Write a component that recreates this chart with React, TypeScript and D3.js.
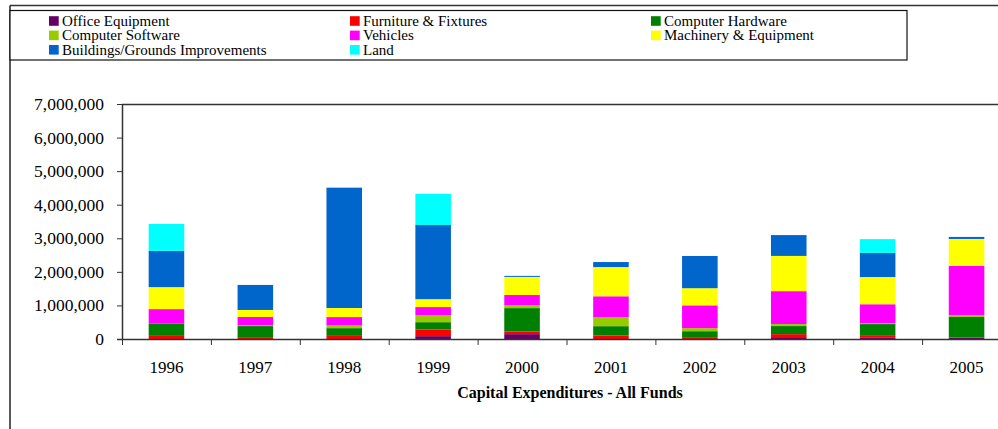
import * as d3 from 'd3';

// capital expenditures by year, in dollars
const years = ['1996', '1997', '1998', '1999', '2000', '2001', '2002', '2003', '2004', '2005'];
const officeEquipment = [0, 0, 0, 100000, 160000, 0, 0, 70000, 50000, 50000];
const furnitureFixtures = [108000, 70000, 108000, 200000, 80000, 120000, 70000, 90000, 80000, 20000];
const computerHardware = [370000, 330000, 230000, 216000, 695000, 277000, 178000, 240000, 330000, 600000];
const computerSoftware = [0, 20000, 80000, 210000, 90000, 270000, 90000, 60000, 30000, 60000];
const vehicles = [427000, 250000, 250000, 240000, 300000, 620000, 680000, 980000, 560000, 1465000];
const machineryEquipment = [655000, 210000, 270000, 235000, 540000, 870000, 510000, 1050000, 810000, 800000];
const buildingsGrounds = [1080000, 745000, 3585000, 2210000, 30000, 150000, 960000, 620000, 720000, 60000];
const land = [800000, 0, 0, 930000, 0, 0, 0, 0, 410000, 0];

const seriesNames = [
  'Office Equipment', 'Furniture & Fixtures', 'Computer Hardware',
  'Computer Software', 'Vehicles', 'Machinery & Equipment',
  'Buildings/Grounds Improvements', 'Land',
];
const seriesColors = ['#660066', '#ff0000', '#008000', '#99cc00', '#ff00ff', '#ffff00', '#0066cc', '#00ffff'];
const seriesValues = [officeEquipment, furnitureFixtures, computerHardware, computerSoftware,
  vehicles, machineryEquipment, buildingsGrounds, land];
const yTicks = [0, 1000000, 2000000, 3000000, 4000000, 5000000, 6000000, 7000000];

const W = 998, H = 429;
const FONT = 'Liberation Serif';

export default function App() {
  const rows = years.map((yr, i) => {
    const r: any = { year: yr };
    seriesNames.forEach((s, k) => { r[s] = seriesValues[k][i]; });
    return r;
  });
  const stacked = d3.stack().keys(seriesNames)(rows);

  const x = d3.scaleBand().domain(years).range([122, 1011]).paddingInner(0.6).paddingOuter(0.3);
  const y = d3.scaleLinear().domain([0, 7000000]).range([339.5, 104.5]);
  const step = x.step();
  const fmt = d3.format(',');
  const txt = { fontFamily: FONT };

  return (
    <svg width={W} height={H} style={{ position: 'absolute', left: 0, top: 0, background: '#fff' }}>
      {/* outer frame */}
      <line x1={10} y1={5.5} x2={W} y2={5.5} stroke="#333" strokeWidth={1.5} />
      <line x1={10} y1={5.5} x2={10} y2={H} stroke="#222" strokeWidth={1.5} />

      {/* legend */}
      <rect x={10} y={10.5} width={897} height={49.5} fill="#fff" stroke="#111" strokeWidth={1.2} />
      {seriesNames.map((s, k) => {
        const col = k % 3, row = Math.floor(k / 3);
        const lx = [49, 350, 651][col];
        const ly = 21 + row * 14.4;
        return (
          <g key={s}>
            <rect x={lx} y={ly - 4.8} width={9.7} height={9.6} fill={seriesColors[k]} />
            <text x={lx + 13} y={ly + 5} fontSize={15} style={txt}>{s}</text>
          </g>
        );
      })}

      {/* bars */}
      {stacked.map((layer, k) => (
        <g key={layer.key} fill={seriesColors[k]}>
          {layer.map((d, i) => {
            const h = y(d[0]) - y(d[1]);
            if (h <= 0) return null;
            return <rect key={i} x={x(years[i])} y={y(d[1])} width={x.bandwidth()} height={h} />;
          })}
        </g>
      ))}

      {/* plot top border */}
      <line x1={122} y1={104.5} x2={W} y2={104.5} stroke="#333" strokeWidth={1.5} />

      {/* y axis */}
      <line x1={122.5} y1={104.5} x2={122.5} y2={339.5} stroke="#333" strokeWidth={1.5} />
      {yTicks.map(t => (
        <g key={t}>
          <line x1={117} y1={y(t)} x2={122.5} y2={y(t)} stroke="#333" strokeWidth={1} />
          <text x={104} y={y(t) + 5.5} fontSize={17.5} textAnchor="end" style={txt}>{fmt(t)}</text>
        </g>
      ))}

      {/* x axis */}
      <line x1={117} y1={339.5} x2={W} y2={339.5} stroke="#333" strokeWidth={1.5} />
      {d3.range(years.length + 1).map(i => (
        <line key={i} x1={122.5 + i * step} y1={339.5} x2={122.5 + i * step} y2={345} stroke="#333" strokeWidth={1} />
      ))}
      {years.map(yr => (
        <text key={yr} x={(x(yr) as number) + x.bandwidth() / 2} y={373} fontSize={17} textAnchor="middle" style={txt}>{yr}</text>
      ))}

      <text x={570} y={398} fontSize={16} fontWeight="bold" textAnchor="middle" style={txt}>Capital Expenditures - All Funds</text>
    </svg>
  );
}
